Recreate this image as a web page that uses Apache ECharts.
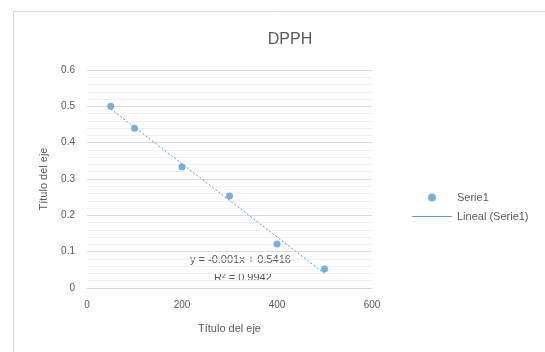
<!DOCTYPE html>
<html><head><meta charset="utf-8">
<script src="https://cdn.jsdelivr.net/npm/echarts@6/dist/echarts.min.js"></script>
<style>html,body{margin:0;padding:0;background:#fff}#c{width:545px;height:352px}</style>
</head><body><div id="c"></div>
<script>
var xValues = [50, 100, 200, 300, 400, 500];
var yValues = [0.50, 0.44, 0.333, 0.253, 0.121, 0.052];
var seriesName = 'Serie1';
var trendName = 'Lineal (Serie1)';
var equationText = 'y = -0.001x + 0.5416';
var r2Text = 'R² = 0.9942';
var titleText = 'DPPH';
var axisTitle = 'Título del eje';

var n = xValues.length, mx = 0, my = 0;
for (var i = 0; i < n; i++) { mx += xValues[i]; my += yValues[i]; }
mx /= n; my /= n;
var sxy = 0, sxx = 0;
for (var i = 0; i < n; i++) { sxy += (xValues[i]-mx)*(yValues[i]-my); sxx += (xValues[i]-mx)*(xValues[i]-mx); }
var slope = sxy/sxx, intercept = my - slope*mx;
var xs = xValues[0], xe = xValues[n-1];
var trend = [[xs, intercept + slope*xs], [xe, intercept + slope*xe]];
var pts = xValues.map(function(x, i){ return [x, yValues[i]]; });

var chart = echarts.init(document.getElementById('c'));
var txt = '#595959';
chart.setOption({
  backgroundColor: '#fff',
  animation: false,
  title: { text: titleText, left: 285, textAlign: 'center', top: 27,
    textStyle: { fontFamily: 'Liberation Sans', fontSize: 16, fontWeight: 'normal', color: txt } },
  grid: { left: 87, right: 173, top: 70, bottom: 64 },
  legend: { orient: 'vertical', left: 407, top: 187, itemGap: 8, itemWidth: 40, itemHeight: 8,
    textStyle: { fontFamily: 'Liberation Sans', fontSize: 11, color: txt },
    data: [{ name: seriesName, icon: 'circle' },
           { name: trendName, icon: 'path://M0,0 H40 V1 H0 Z' }] },
  xAxis: { type: 'value', min: 0, max: 600, interval: 200,
    name: axisTitle, nameLocation: 'middle', nameGap: 35,
    nameTextStyle: { fontFamily: 'Liberation Sans', fontSize: 11, color: txt },
    axisLine: { show: true, lineStyle: { color: '#d9d9d9' } }, axisTick: { show: false },
    axisLabel: { color: txt, fontSize: 10, fontFamily: 'Liberation Sans', margin: 12 },
    splitLine: { show: false } },
  yAxis: { type: 'value', min: 0, max: 0.6, interval: 0.1,
    name: axisTitle, nameLocation: 'middle', nameGap: 38,
    nameTextStyle: { fontFamily: 'Liberation Sans', fontSize: 11, color: txt },
    axisLine: { show: false }, axisTick: { show: false },
    axisLabel: { color: txt, fontSize: 10, fontFamily: 'Liberation Sans', margin: 12 },
    splitLine: { show: true, lineStyle: { color: '#d9d9d9' } },
    minorTick: { show: false, splitNumber: 5 },
    minorSplitLine: { show: true, lineStyle: { color: '#f0f0f0' } } },
  graphic: [
    { type: 'rect', left: 11, top: 9, shape: { width: 600, height: 400 }, silent: true, z: -10,
      style: { fill: 'none', stroke: '#d9d9d9', lineWidth: 1 } },
    { type: 'text', left: 190, top: 254, style: { text: equationText, fill: txt, fontSize: 11, fontFamily: 'Liberation Sans' } },
    { type: 'text', left: 214, top: 272, style: { text: r2Text, fill: txt, fontSize: 11, fontFamily: 'Liberation Sans' } }
  ],
  series: [
    { name: seriesName, type: 'scatter', data: pts, symbol: 'circle', symbolSize: 7,
      itemStyle: { color: '#5b9bd5' }, z: 3 },
    { name: trendName, type: 'line', data: trend, showSymbol: false, symbol: 'none',
      lineStyle: { color: '#5b9bd5', width: 1, type: [2, 2] }, itemStyle: { color: '#5b9bd5' }, z: 2 }
  ]
});
</script></body></html>
